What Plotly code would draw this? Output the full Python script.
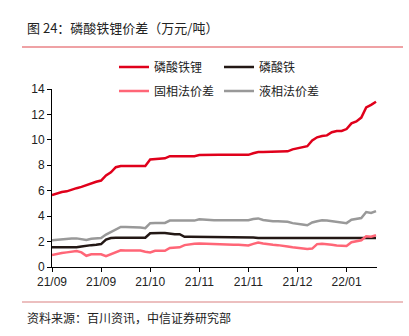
import plotly.graph_objects as go

tick_labels = ["21/09", "21/09", "21/10", "21/11", "21/11", "21/12", "22/01"]
tick_idx = [0, 10, 20, 30, 40, 50, 60]

lfp = [5.65, 5.8, 5.9, 5.95, 6.1, 6.2, 6.3, 6.45, 6.6, 6.7,
       6.8, 7.2, 7.45, 7.85, 7.95, 7.95, 7.95, 7.95, 7.95, 7.95,
       8.45, 8.5, 8.5, 8.55, 8.72, 8.72, 8.72, 8.72, 8.72, 8.72,
       8.8, 8.82, 8.82, 8.82, 8.82, 8.82, 8.82, 8.82, 8.82, 8.82,
       8.82, 8.95, 9.05, 9.05, 9.05, 9.05, 9.05, 9.05, 9.1, 9.25,
       9.35, 9.4, 9.5, 9.95, 10.2, 10.3, 10.35, 10.6, 10.7, 10.7,
       10.85, 11.3, 11.45, 11.75, 12.55, 12.75, 13.0]
fp = [1.55, 1.55, 1.55, 1.55, 1.55, 1.55, 1.62, 1.7, 1.72, 1.75,
      1.8, 2.15, 2.28, 2.3, 2.3, 2.3, 2.3, 2.3, 2.3, 2.3,
      2.65, 2.68, 2.68, 2.68, 2.6, 2.58, 2.58, 2.38, 2.37, 2.37,
      2.37, 2.37, 2.37, 2.37, 2.37, 2.37, 2.37, 2.37, 2.37, 2.37,
      2.37, 2.32, 2.28, 2.28, 2.28, 2.28, 2.28, 2.28, 2.28, 2.28,
      2.28, 2.28, 2.28, 2.28, 2.28, 2.28, 2.28, 2.28, 2.28, 2.28,
      2.28, 2.28, 2.28, 2.28, 2.28, 2.28, 2.28]
solid = [0.95, 1.05, 1.1, 1.15, 1.2, 1.25, 1.15, 0.88, 1.0, 1.02,
         1.0, 0.85, 1.0, 1.2, 1.32, 1.3, 1.3, 1.3, 1.3, 1.2,
         1.15, 1.27, 1.27, 1.27, 1.5, 1.55, 1.55, 1.72, 1.78, 1.82,
         1.84, 1.82, 1.8, 1.78, 1.75, 1.75, 1.75, 1.75, 1.75, 1.72,
         1.7, 1.82, 1.93, 1.85, 1.78, 1.75, 1.72, 1.7, 1.62, 1.55,
         1.52, 1.48, 1.42, 1.45, 1.8, 1.82, 1.8, 1.75, 1.7, 1.65,
         1.65, 1.95, 2.02, 2.1, 2.42, 2.38, 2.5]
liquid = [2.1, 2.15, 2.2, 2.22, 2.25, 2.25, 2.2, 2.12, 2.22, 2.25,
          2.28, 2.55, 2.75, 3.0, 3.15, 3.15, 3.15, 3.15, 3.1, 3.05,
          3.45, 3.47, 3.47, 3.47, 3.65, 3.65, 3.65, 3.65, 3.65, 3.65,
          3.75, 3.72, 3.68, 3.68, 3.68, 3.68, 3.68, 3.68, 3.68, 3.68,
          3.68, 3.78, 3.82, 3.7, 3.62, 3.6, 3.6, 3.6, 3.55, 3.45,
          3.42, 3.35, 3.28, 3.5, 3.6, 3.68, 3.65, 3.6, 3.52, 3.45,
          3.45, 3.72, 3.78, 3.85, 4.32, 4.25, 4.4]

x = list(range(len(lfp)))
font_cn = "Noto Sans CJK SC, Liberation Sans, Arial, sans-serif"

fig = go.Figure()
fig.add_trace(go.Scatter(x=x, y=lfp, mode="lines", name="磷酸铁锂",
                         line=dict(color="#e0001b", width=2.5), legend="legend"))
fig.add_trace(go.Scatter(x=x, y=fp, mode="lines", name="磷酸铁",
                         line=dict(color="#231815", width=2.5), legend="legend"))
fig.add_trace(go.Scatter(x=x, y=solid, mode="lines", name="固相法价差",
                         line=dict(color="#ff6677", width=2.5), legend="legend2"))
fig.add_trace(go.Scatter(x=x, y=liquid, mode="lines", name="液相法价差",
                         line=dict(color="#999999", width=2.5), legend="legend2"))

leg_common = dict(orientation="h", xref="container", yref="container",
                  yanchor="middle", xanchor="left", entrywidth=60,
                  font=dict(size=12, color="#222222"), bgcolor="rgba(0,0,0,0)",
                  borderwidth=0, tracegroupgap=0)

fig.update_layout(
    width=409, height=336,
    margin=dict(l=52, r=32, t=89, b=69, autoexpand=False),
    paper_bgcolor="white", plot_bgcolor="white",
    font=dict(family=font_cn, size=12, color="#222222"),
    legend=dict(x=114/409, y=1 - 67/336, **leg_common),
    legend2=dict(x=114/409, y=1 - 91/336, **leg_common),
    xaxis=dict(range=[0, 66.2], tickvals=tick_idx, ticktext=tick_labels,
               showgrid=False, zeroline=False, showline=True, linecolor="black",
               linewidth=1, ticks="outside", ticklen=4, tickcolor="black",
               tickfont=dict(family="Liberation Sans, Arial, sans-serif", size=12, color="#222222")),
    yaxis=dict(range=[0, 14], dtick=2, showgrid=False, zeroline=False,
               showline=True, linecolor="black", linewidth=1,
               ticks="outside", ticklen=4, tickcolor="black",
               tickfont=dict(family="Liberation Sans, Arial, sans-serif", size=12, color="#222222")),
    shapes=[
        dict(type="line", xref="paper", yref="paper", x0=(22-52)/325, x1=(403-52)/325,
             y0=(336-69-47)/178, y1=(336-69-47)/178, line=dict(color="#e0474c", width=1.2)),
        dict(type="line", xref="paper", yref="paper", x0=(22-52)/325, x1=(403-52)/325,
             y0=(336-69-302)/178, y1=(336-69-302)/178, line=dict(color="#d98080", width=1.2)),
    ],
    annotations=[
        dict(text="图 24：磷酸铁锂价差（万元/吨）", xref="paper", yref="paper",
             x=(25-52)/325, y=(336-69-28)/178, xanchor="left", yanchor="middle",
             showarrow=False, font=dict(size=13, color="#222222")),
        dict(text="资料来源：百川资讯，中信证券研究部", xref="paper", yref="paper",
             x=(25-52)/325, y=(336-69-317)/178, xanchor="left", yanchor="middle",
             showarrow=False, font=dict(size=12, color="#222222")),
    ],
)

fig.write_html("out.html")
